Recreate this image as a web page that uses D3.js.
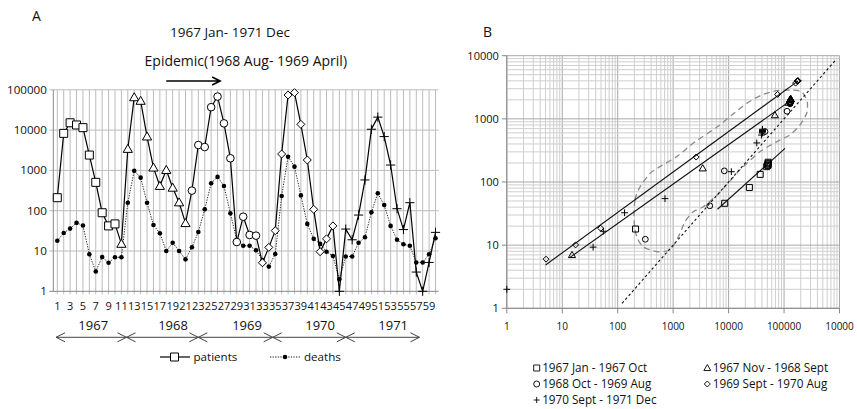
<!DOCTYPE html>
<html><head><meta charset="utf-8">
<script src="https://cdn.jsdelivr.net/npm/d3@7"></script>
<style>
body{margin:0;background:#fff}
text{font-family:"Open Sans",sans-serif;fill:#111}
</style>
</head><body>
<svg id="c" width="857" height="409"></svg>
<script>
// ---------------- DATA ----------------
const months = d3.range(1, 61); // 1967 Jan (1) ... 1971 Dec (60)
const patients = [210, 8300, 15200, 13400, 11500, 2400, 505, 89, 42, 47,
  15, 3400, 65000, 53000, 6900, 1170, 410, 1020, 370, 160, 49,
  315, 4260, 3800, 37000, 68000, 14700, 2000, 16.7, 71, 25, 24,
  5.1, 12.3, 32, 2550, 74000, 85000, 13900, 1810, 108, 9.6, 20, 42,
  1, 35, 19, 78, 580, 10500, 21000, 6900, 1360, 112, 34, 158, 3, 1, 5.2, 29];
const deaths = [18, 28, 36, 50, 43, 8.3, 3.1, 7.1, 5.1, 7,
  7, 158, 980, 660, 158, 44, 27.5, 10, 16, 10, 6.2,
  12.4, 29.6, 108, 480, 690, 410, 86, 18.7, 13.5, 13.5, 10.4,
  6, 4.1, 8.4, 230, 2190, 1240, 240, 47, 20, 15, 9.6, 7.5,
  2, 7.3, 7.3, 16, 22, 91, 270, 138, 42, 19, 14.7, 13.5, 5.2, 5.2, 8.3, 20.7];
const periodLabels = ["1967 Jan - 1967 Oct", "1967 Nov - 1968 Sept", "1968 Oct - 1969 Aug", "1969 Sept - 1970 Aug", "1970 Sept - 1971 Dec"];
const periodStart = [1, 11, 22, 33, 45];
const periodEnd = [10, 21, 32, 44, 60];
const periodSymbols = ["square", "triangle", "circle", "diamond", "plus"];
const years = ["1967", "1968", "1969", "1970", "1971"];
const yearLabelAt = [6.6, 19.05, 30.6, 42, 53.4];      // month units
const yearArrowFrom = [0.8, 11.8, 23, 34.6, 46];
const yearArrowTo = [11.8, 23, 34.6, 46, 57.5];
const yTicksA = [1, 10, 100, 1000, 10000, 100000];
const xTicksA = months.filter(m => m % 2 === 1);
const xTicksB = [1, 10, 100, 1000, 10000, 100000, 1000000];
const xTickLabelsB = ["1", "10", "100", "1000", "10000", "100000", "10000"];
const yTicksB = [1, 10, 100, 1000, 10000];
// annotation lines in panel B (cumulative patients, cumulative deaths)
const fitLines = [[[5, 4.85], [180000, 4000]], [[13.8, 6.4], [137000, 2000]], [[6300, 37], [104000, 340]]];
const cfrLine = [[120, 1.2], [830000, 8300]];
const envelope = [[197,25],[205,52],[253,84],[383,137],[580,175],[1160,252],[2480,435],[6100,735],
  [11400,1150],[21200,1760],[39500,2390],[73600,2790],[137000,2860],[208000,2690],[262000,1870],
  [256000,1225],[194000,800],[128000,556],[84500,463],[36800,302],[16100,156],[7000,69],[3500,40.6],
  [2300,33.9],[1640,23.5],[1240,13.6],[878,8.4],[505,7.9],[290,9.4],[220,13.6]];
const epidemicArrow = [18.0, 26.4]; // month units

// ---------------- HELPERS ----------------
const svg = d3.select("#c");
function sym(type, s) {
  switch (type) {
    case "square": return `M${-s},${-s}h${2*s}v${2*s}h${-2*s}Z`;
    case "triangle": return `M0,${-s*1.15}L${s*1.15},${s*0.85}L${-s*1.15},${s*0.85}Z`;
    case "circle": return `M${s},0A${s},${s} 0 1,1 ${-s},0A${s},${s} 0 1,1 ${s},0Z`;
    case "diamond": return `M0,${-s}L${s},0L0,${s}L${-s},0Z`;
    case "plus": return `M${-s},0H${s}M0,${-s}V${s}`;
  }
}
const symSizeA = {square: 4, triangle: 4, circle: 3.8, diamond: 4, plus: 4.6};
const symSizeB = {square: 3, triangle: 3.1, circle: 2.9, diamond: 3, plus: 3.4};
function periodOf(m) { return periodStart.findIndex((s, i) => m >= s && m <= periodEnd[i]); }

// ---------------- PANEL A ----------------
const xA = d3.scaleLinear().domain([1, 60]).range([57.3, 435.5]);
const yA = d3.scaleLog().domain([1, 100000]).range([291.3, 89.8]);
const gA = svg.append("g");
const axL = 53.3, axR = 438.6;
// vertical grid
gA.selectAll(".vg").data(months).join("line")
  .attr("x1", d => xA(d)).attr("x2", d => xA(d))
  .attr("y1", yA(100000)).attr("y2", yA(1) + 3)
  .attr("stroke", "#bcbcbc").attr("stroke-width", 1);
// horizontal grid
gA.selectAll(".hg").data(yTicksA).join("line")
  .attr("x1", axL - 4).attr("x2", axR)
  .attr("y1", d => yA(d)).attr("y2", d => yA(d))
  .attr("stroke", d => d === 1 ? "#888" : "#bcbcbc").attr("stroke-width", 1);
gA.append("line").attr("x1", axL).attr("x2", axL).attr("y1", yA(100000)).attr("y2", yA(1))
  .attr("stroke", "#888");
gA.selectAll(".yl").data(yTicksA).join("text")
  .attr("x", axL - 6.5).attr("y", d => yA(d) + 4).attr("text-anchor", "end")
  .attr("font-size", 11.6).text(d => d);
gA.selectAll(".xl").data(xTicksA).join("text")
  .attr("x", d => xA(d)).attr("y", 309.5).attr("text-anchor", "middle")
  .attr("font-size", 11).text(d => d);
// year labels + arrows
gA.selectAll(".yr").data(years).join("text")
  .attr("x", (d, i) => xA(yearLabelAt[i])).attr("y", 330).attr("text-anchor", "middle")
  .attr("font-size", 13).text(d => d);
years.forEach((y, i) => {
  const a = xA(yearArrowFrom[i]), b = xA(yearArrowTo[i]), yy = 337.3;
  gA.append("path").attr("d", `M${a},${yy}H${b}M${a+9},${yy-4.5}L${a},${yy}L${a+9},${yy+4.5}M${b-9},${yy-4.5}L${b},${yy}L${b-9},${yy+4.5}`)
    .attr("fill", "none").attr("stroke", "#444").attr("stroke-width", 1);
});
// deaths series
const lineA = d3.line().x(d => xA(d[0])).y(d => yA(d[1]));
const dD = months.map((m, i) => [m, deaths[i]]);
gA.append("path").attr("d", lineA(dD)).attr("fill", "none").attr("stroke", "#111")
  .attr("stroke-width", 0.9).attr("stroke-dasharray", "1.3,1.3");
gA.selectAll(".dd").data(dD).join("circle")
  .attr("cx", d => xA(d[0])).attr("cy", d => yA(d[1])).attr("r", 2.3).attr("fill", "#000");
// patients series
const dP = months.map((m, i) => [m, patients[i]]);
gA.append("path").attr("d", lineA(dP)).attr("fill", "none").attr("stroke", "#000").attr("stroke-width", 1.2);
gA.selectAll(".pm").data(dP).join("path")
  .attr("transform", d => `translate(${xA(d[0])},${yA(d[1])})`)
  .attr("d", d => { const t = periodSymbols[periodOf(d[0])]; return sym(t, symSizeA[t]); })
  .attr("fill", d => periodSymbols[periodOf(d[0])] === "plus" ? "none" : "#fff")
  .attr("stroke", "#000").attr("stroke-width", 1);
// legend A
const lg = gA.append("g");
lg.append("line").attr("x1", 160).attr("x2", 190).attr("y1", 357).attr("y2", 357).attr("stroke", "#000").attr("stroke-width", 1.2);
lg.append("path").attr("transform", "translate(174.5,357)").attr("d", sym("square", 4)).attr("fill", "#fff").attr("stroke", "#000");
lg.append("text").attr("x", 193.5).attr("y", 361).attr("font-size", 11.6).text("patients");
lg.append("line").attr("x1", 270).attr("x2", 300).attr("y1", 357).attr("y2", 357).attr("stroke", "#000").attr("stroke-width", 0.9).attr("stroke-dasharray", "1.3,1.3");
lg.append("circle").attr("cx", 285).attr("cy", 357).attr("r", 2.3).attr("fill", "#000");
lg.append("text").attr("x", 304).attr("y", 361).attr("font-size", 11.6).text("deaths");
// titles
svg.append("text").attr("x", 32).attr("y", 20.5).attr("font-size", 14).text("A");
svg.append("text").attr("x", 230).attr("y", 37).attr("text-anchor", "middle").attr("font-size", 13.5).text("1967 Jan- 1971 Dec");
svg.append("text").attr("x", 245.8).attr("y", 66).attr("text-anchor", "middle").attr("font-size", 14).text("Epidemic(1968 Aug- 1969 April)");
{
  const a = xA(epidemicArrow[0]), b = xA(epidemicArrow[1]), yy = 81;
  svg.append("path").attr("d", `M${a},${yy}H${b}M${b-8},${yy-4}L${b},${yy}L${b-8},${yy+4}`)
    .attr("fill", "none").attr("stroke", "#000").attr("stroke-width", 1.6);
}

// ---------------- PANEL B ----------------
const xB = d3.scaleLog().domain([1, 1e6]).range([506.8, 839.5]);
const yB = d3.scaleLog().domain([1, 1e4]).range([308.3, 55.7]);
const gB = svg.append("g");
const gx = [], gy = [];
for (let k = 0; k < 6; k++) for (let j = 1; j <= 9; j++) gx.push(j * Math.pow(10, k));
gx.push(1e6);
for (let k = 0; k < 4; k++) for (let j = 1; j <= 9; j++) gy.push(j * Math.pow(10, k));
gy.push(1e4);
const isMajor = v => Math.abs(Math.log10(v) - Math.round(Math.log10(v))) < 1e-9;
gB.selectAll(".bgx").data(gx).join("line")
  .attr("x1", d => xB(d)).attr("x2", d => xB(d)).attr("y1", yB(1e4)).attr("y2", yB(1))
  .attr("stroke", d => isMajor(d) ? "#a8a8a8" : "#cfcfcf").attr("stroke-width", 1);
gB.selectAll(".bgy").data(gy).join("line")
  .attr("x1", xB(1)).attr("x2", xB(1e6)).attr("y1", d => yB(d)).attr("y2", d => yB(d))
  .attr("stroke", d => isMajor(d) ? "#a8a8a8" : "#cfcfcf").attr("stroke-width", 1);
gB.append("line").attr("x1", xB(1)).attr("x2", xB(1)).attr("y1", yB(1e4)).attr("y2", yB(1)).attr("stroke", "#888");
gB.append("line").attr("x1", xB(1)).attr("x2", xB(1e6)).attr("y1", yB(1)).attr("y2", yB(1)).attr("stroke", "#888");
gB.selectAll(".byt").data(yTicksB).join("line")
  .attr("x1", xB(1) - 5).attr("x2", xB(1)).attr("y1", d => yB(d)).attr("y2", d => yB(d)).attr("stroke", "#888");
gB.selectAll(".bxt").data(xTicksB).join("line")
  .attr("x1", d => xB(d)).attr("x2", d => xB(d)).attr("y1", yB(1)).attr("y2", yB(1) + 5).attr("stroke", "#888");
gB.selectAll(".byl").data(yTicksB).join("text")
  .attr("x", xB(1) - 8).attr("y", d => yB(d) + 4).attr("text-anchor", "end")
  .attr("font-size", 11).text(d => d);
gB.selectAll(".bxl").data(xTicksB).join("text")
  .attr("x", d => xB(d)).attr("y", 329.5).attr("text-anchor", "middle")
  .attr("font-size", 10).text((d, i) => xTickLabelsB[i]);
svg.append("text").attr("x", 483).attr("y", 37).attr("font-size", 14).text("B");
// envelope
const lineB = d3.line().x(d => xB(d[0])).y(d => yB(d[1]));
gB.append("path").attr("d", lineB.curve(d3.curveCardinalClosed.tension(0.3))(envelope))
  .attr("fill", "none").attr("stroke", "#8a8a8a").attr("stroke-width", 1.3).attr("stroke-dasharray", "6,4");
lineB.curve(d3.curveLinear);
// CFR line
gB.append("path").attr("d", lineB(cfrLine)).attr("fill", "none").attr("stroke", "#111")
  .attr("stroke-width", 1.1).attr("stroke-dasharray", "2.5,2.5");
// fit lines
fitLines.forEach(l => gB.append("path").attr("d", lineB(l)).attr("fill", "none").attr("stroke", "#111").attr("stroke-width", 1.1));
// cumulative points per period
const cum = [];
periodStart.forEach((s, p) => {
  let cp = 0, cd = 0;
  for (let m = s; m <= periodEnd[p]; m++) {
    cp += patients[m - 1]; cd += deaths[m - 1];
    cum.push({p, x: cp, y: cd});
  }
});
gB.selectAll(".bm").data(cum).join("path")
  .attr("transform", d => `translate(${xB(d.x)},${yB(d.y)})`)
  .attr("d", d => { const t = periodSymbols[d.p]; return sym(t, symSizeB[t]); })
  .attr("fill", "none").attr("stroke", "#000").attr("stroke-width", 1);
// legend B
const legX = [536.7, 536.7, 536.7, 707.3, 707.3];
const legOrder = [0, 2, 4, 1, 3];
const legRow = [0, 1, 2, 0, 1];
legOrder.forEach((p, i) => {
  const x = legX[i], y = 368 + legRow[i] * 16;
  gB.append("path").attr("transform", `translate(${x},${y})`)
    .attr("d", sym(periodSymbols[p], 3)).attr("fill", "none").attr("stroke", "#000").attr("stroke-width", 0.9);
  gB.append("text").attr("x", x + 5.5).attr("y", y + 4.3).attr("font-size", 11.7).text(periodLabels[p]);
});
</script>
</body></html>
